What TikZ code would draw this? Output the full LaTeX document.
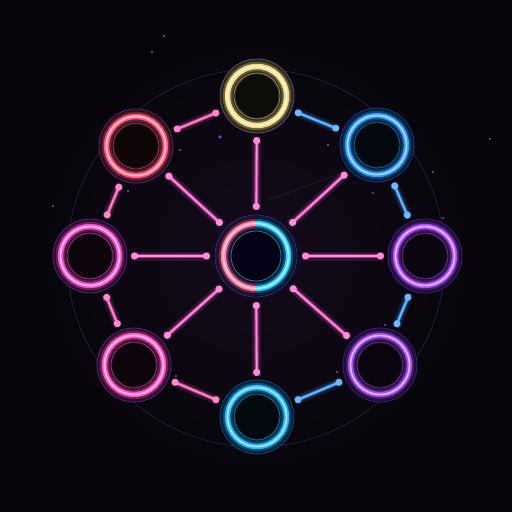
\documentclass[tikz,border=0pt]{standalone}
\usetikzlibrary{arrows.meta}
\definecolor{bg}{HTML}{060509}
\definecolor{bgglow}{HTML}{140a1c}
\definecolor{faint}{HTML}{3a3f66}
\definecolor{spk}{HTML}{FF5FD0}
\definecolor{pnk}{HTML}{FF5AB8}
\definecolor{blu}{HTML}{3A9CFF}
\definecolor{cyellow}{HTML}{F2E08C}
\definecolor{ccoral}{HTML}{FF5A82}
\definecolor{cblue}{HTML}{2E9BFF}
\definecolor{cmag}{HTML}{F64FD2}
\definecolor{cpurple}{HTML}{B04CFF}
\definecolor{cpink}{HTML}{FF55C4}
\definecolor{cviolet}{HTML}{A64CF2}
\definecolor{ccyan}{HTML}{27B8FF}
\definecolor{hubl}{HTML}{FF7AA6}
\definecolor{hubr}{HTML}{2FD0FF}
\newcommand\neonring[3]{%
  \fill[#2!6!black, opacity=.85] (#1) circle (37);
  \draw[#2!45!blue, opacity=.55, line width=.7] (#1) circle (37);
  \draw[#2, opacity=.13, line width=16] (#1) circle (#3);
  \draw[#2, opacity=.28, line width=9.5] (#1) circle (#3);
  \draw[#2, line width=5.4] (#1) circle (#3);
  \draw[#2!40!white, line width=1.8] (#1) circle (#3);
  \draw[#2, opacity=.55, line width=.7] (#1) circle (23);
}
\begin{document}
\begin{tikzpicture}[x=1pt,y=-1pt,
  hub/.style={circle, inner sep=0pt, minimum size=92pt},
  sat/.style={circle, inner sep=0pt, minimum size=82pt},
  dots/.style={{Circle[length=7pt]}-{Circle[length=7pt]}},
  neon/.style={draw=#1!72!white, line width=1.8pt, dots,
    preaction={draw=#1, -, line width=9pt, opacity=.14},
    preaction={draw=#1, -, line width=4pt, opacity=.55}},
  star/.style={fill=#1, opacity=.8}]
\useasboundingbox (0,0) rectangle (512,512);
\fill[bg] (0,0) rectangle (512,512);
\shade[inner color=bgglow, outer color=bg] (256,256) circle (250);
% faint guide circle
\draw[faint, line width=.6, opacity=.6] (256,258) circle (189);
\draw[faint, line width=.5, opacity=.5] (268,200) -- (345,172);
% stars
\foreach \p in {(152,52),(164,36),(490,139),(433,172),(53,206),(128,191),(180,150),(328,145),(373,193),(443,218),(385,325),(176,376),(337,372)}
  \fill[star=white!70!blue] \p circle (0.8);
\fill[star=blue!60!white] (220,137) circle (1.8);
% nodes
\node[hub] (c)  at (256,256) {};
\node[sat] (n)  at (257,96)  {};
\node[sat] (ne) at (377,145) {};
\node[sat] (e)  at (425,256) {};
\node[sat] (se) at (380,365) {};
\node[sat] (s)  at (257,417) {};
\node[sat] (sw) at (134,365) {};
\node[sat] (w)  at (90,256)  {};
\node[sat] (nw) at (136,146) {};
% spokes
\foreach \t in {n,ne,e,se,s,sw,w,nw}
  \draw[neon=spk] (c) -- (\t);
% perimeter
\draw[neon=pnk] (n) -- (nw);
\draw[neon=pnk] (nw) -- (w);
\draw[neon=pnk] (w) -- (sw);
\draw[neon=pnk] (sw) -- (s);
\draw[neon=blu] (s) -- (se);
\draw[neon=blu] (se) -- (e);
\draw[neon=blu] (e) -- (ne);
\draw[neon=blu] (ne) -- (n);
% rings
\neonring{n}{cyellow}{29.5}
\neonring{ne}{cblue}{29.5}
\neonring{e}{cpurple}{29.5}
\neonring{se}{cviolet}{29.5}
\neonring{s}{ccyan}{29.5}
\neonring{sw}{cpink}{29.5}
\neonring{w}{cmag}{29.5}
\neonring{nw}{ccoral}{29.5}
% hub
\fill[blue!8!black, opacity=.85] (c) circle (41);
\draw[blue!70!white, opacity=.55, line width=.7] (c) circle (41);
\foreach \w/\o in {16/.13, 9.5/.28} {
  \draw[hubl, opacity=\o, line width=\w] (c) ++(90:32.5) arc[start angle=90, end angle=270, radius=32.5];
  \draw[hubr, opacity=\o, line width=\w] (c) ++(-90:32.5) arc[start angle=-90, end angle=90, radius=32.5];
}
\draw[hubl, line width=5.4] (c) ++(90:32.5) arc[start angle=90, end angle=270, radius=32.5];
\draw[hubr, line width=5.4] (c) ++(-90:32.5) arc[start angle=-90, end angle=90, radius=32.5];
\draw[hubl!40!white, line width=1.8] (c) ++(90:32.5) arc[start angle=90, end angle=270, radius=32.5];
\draw[hubr!40!white, line width=1.8] (c) ++(-90:32.5) arc[start angle=-90, end angle=90, radius=32.5];
\draw[hubr, opacity=.55, line width=.7] (c) circle (25);
\end{tikzpicture}
\end{document}
